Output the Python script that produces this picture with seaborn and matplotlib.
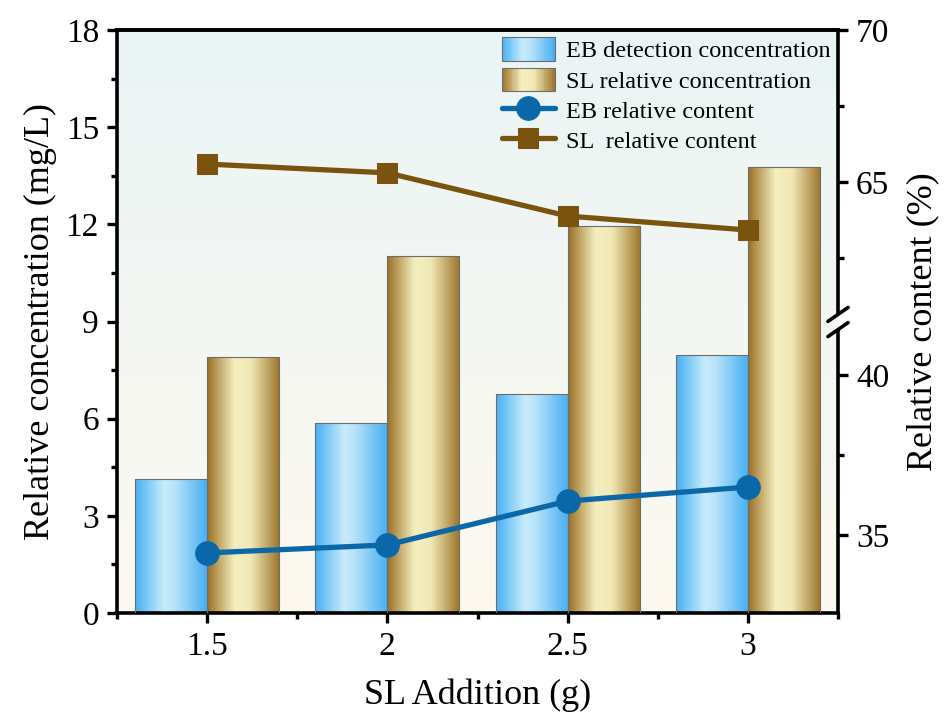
import numpy as np
import pandas as pd
import matplotlib
matplotlib.use('Agg')
import matplotlib.pyplot as plt
import seaborn as sns
from matplotlib.colors import LinearSegmentedColormap
from matplotlib.patches import Rectangle
from matplotlib.legend_handler import HandlerPatch
from matplotlib.ticker import FixedLocator, MultipleLocator

# data
sl_addition = ['1.5', '2', '2.5', '3']
eb_detect_conc = [4.14, 5.87, 6.76, 7.97]
sl_rel_conc = [7.90, 11.02, 11.95, 13.77]
eb_rel_content = [34.44, 34.69, 36.06, 36.50]
sl_rel_content = [65.59, 65.30, 63.88, 63.42]

sns.set_style('ticks', {'text.color': 'black', 'axes.labelcolor': 'black',
                        'xtick.color': 'black', 'ytick.color': 'black',
                        'axes.edgecolor': 'black'})
plt.rcParams['font.family'] = ['Liberation Serif', 'DejaVu Serif']

blue_cmap = LinearSegmentedColormap.from_list(
    'bl', [(0, '#48b0f2'), (0.4, '#c8ebfb'), (0.55, '#b6e2fa'), (1, '#45aef2')])
gold_cmap = LinearSegmentedColormap.from_list(
    'gd', [(0, '#9a6f24'), (0.38, '#f4efc0'), (0.6, '#f1e8b6'), (1, '#9c7428')])

df = pd.DataFrame({
    'x': sl_addition * 2,
    'val': eb_detect_conc + sl_rel_conc,
    'series': ['EB detection concentration'] * 4 + ['SL relative concentration'] * 4,
})

fig = plt.figure(figsize=(9.46, 7.22), dpi=100)
ax = fig.add_axes([117 / 946, 1 - 613 / 722, (838 - 117) / 946, (613 - 30) / 722])

# background gradient
bg = LinearSegmentedColormap.from_list('bg', ['#fdf9f0', '#eaf4f5'])
ax.imshow(np.linspace(0, 1, 256).reshape(-1, 1), cmap=bg, origin='lower', aspect='auto',
          extent=(-0.5, 3.5, 0, 18), zorder=0)

sns.barplot(data=df, x='x', y='val', hue='series', palette=['#8fd0f7', '#d8c07a'],
            width=0.8, edgecolor='#6d6d6d', linewidth=0.8, legend=False, ax=ax, zorder=2)

grad = np.linspace(0, 1, 256).reshape(1, -1)
for i, p in enumerate(ax.patches):
    cmap = blue_cmap if i < 4 else gold_cmap
    x0, y0 = p.get_x(), p.get_y()
    w, h = p.get_width(), p.get_height()
    im = ax.imshow(grad, cmap=cmap, aspect='auto', extent=(x0, x0 + w, y0, y0 + h),
                   interpolation='bicubic', zorder=2)
    im.set_clip_path(p)
    p.set_facecolor('none')
    p.set_zorder(3)

ax.set_xlim(-0.5, 3.5)
ax.set_ylim(0, 18)
ax.set_yticks(np.arange(0, 19, 3))
ax.yaxis.set_minor_locator(MultipleLocator(1.5))
ax.xaxis.set_minor_locator(FixedLocator([-0.5, 0.5, 1.5, 2.5, 3.5]))
ax.set_xlabel('SL Addition (g)', fontsize=26, labelpad=12)
ax.set_ylabel('Relative concentration (mg/L)', fontsize=26, labelpad=6)

# right axis with a break between 40 and 65
lo_v, hi_v = 41.5, 60.5


def fwd(v):
    v = np.asarray(v, dtype=float)
    lo = (78 + (v - 35) * 32) / 583
    hi = (583 - (70 - v) * 30.4) / 583
    t1 = (78 + (lo_v - 35) * 32) / 583
    t2 = (583 - (70 - hi_v) * 30.4) / 583
    mid = t1 + (v - lo_v) * (t2 - t1) / (hi_v - lo_v)
    return np.where(v <= lo_v, lo, np.where(v >= hi_v, hi, mid))


def inv(t):
    t = np.asarray(t, dtype=float)
    t1 = (78 + (lo_v - 35) * 32) / 583
    t2 = (583 - (70 - hi_v) * 30.4) / 583
    lo = 35 + (t * 583 - 78) / 32
    hi = 70 - (583 - t * 583) / 30.4
    mid = lo_v + (t - t1) * (hi_v - lo_v) / (t2 - t1)
    return np.where(t <= t1, lo, np.where(t >= t2, hi, mid))


ax2 = ax.twinx()
ax2.set_yscale('function', functions=(fwd, inv))
xpos = np.arange(4)
sns.lineplot(x=xpos, y=eb_rel_content, ax=ax2, color='#0b68a8', linewidth=3.8,
             marker='o', markersize=17, markeredgecolor='#0b68a8', zorder=5)
sns.lineplot(x=xpos, y=sl_rel_content, ax=ax2, color='#7a530f', linewidth=3.8,
             marker='s', markersize=15, markeredgecolor='#7a530f', zorder=5)
ax2.set_ylim(35 - 78 / 32, 70)
ax2.yaxis.set_major_locator(FixedLocator([35, 40, 65, 70]))
ax2.yaxis.set_minor_locator(FixedLocator([37.5, 62.5, 67.5]))
ax2.yaxis.set_major_formatter(plt.FixedFormatter(['35', '40', '65', '70']))
ax2.set_ylabel('Relative content (%)', fontsize=26, labelpad=12)

for a in (ax, ax2):
    for s in a.spines.values():
        s.set_linewidth(2.6)
    a.tick_params(which='major', length=7, width=2.4, labelsize=24, direction='out', pad=6)
    a.tick_params(which='minor', length=4, width=2.4, direction='out')
ax.spines['right'].set_visible(False)
ax2.spines['left'].set_visible(False)
ax2.spines['right'].set_visible(False)
ax2.spines['bottom'].set_visible(False)

# broken right spine with // marks
tb = 291 / 583
kw = dict(transform=ax2.transAxes, color='black', lw=2.6, clip_on=False, zorder=10)
ax2.plot([1, 1], [0, tb - 0.014], **kw)
ax2.plot([1, 1], [tb + 0.014, 1], **kw)
dx, dy = 0.014, 0.012
for off in (-0.013, 0.013):
    ax2.plot([1 - dx, 1 + dx], [tb + off - dy, tb + off + dy], **kw)


class GradHandler(HandlerPatch):
    def __init__(self, cmap):
        super().__init__()
        self.cmap = cmap

    def create_artists(self, legend, orig_handle, xdescent, ydescent, width, height,
                       fontsize, trans):
        arts = []
        n = 30
        for k in range(n):
            r = Rectangle((-xdescent + width * k / n, -ydescent), width / n + 0.3, height,
                          facecolor=self.cmap((k + 0.5) / n), edgecolor='none', transform=trans)
            arts.append(r)
        arts.append(Rectangle((-xdescent, -ydescent), width, height, facecolor='none',
                              edgecolor='#6d6d6d', lw=0.8, transform=trans))
        return arts


hb = Rectangle((0, 0), 1, 1)
hg = Rectangle((0, 0), 1, 1)
lines = ax2.get_lines()[:2]
leg = ax2.legend([hb, hg, lines[0], lines[1]],
                 ['EB detection concentration', 'SL relative concentration',
                  'EB relative content', 'SL  relative content'],
                 handler_map={hb: GradHandler(blue_cmap), hg: GradHandler(gold_cmap)},
                 loc='upper right', bbox_to_anchor=(1.0, 1.0), fontsize=17.5,
                 frameon=False, handlelength=2.2, handleheight=1.1, labelspacing=0.22,
                 handletextpad=0.45, borderaxespad=0.1, borderpad=0.2)

fig.savefig('out.png', dpi=100)
